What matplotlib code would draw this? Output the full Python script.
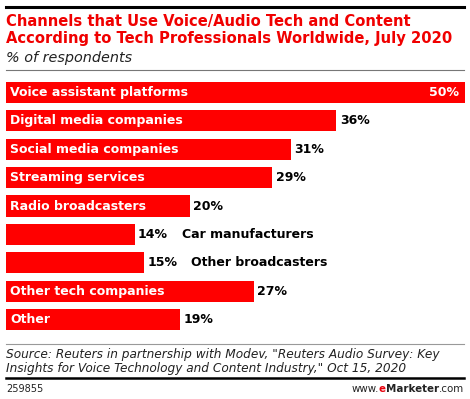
import matplotlib
matplotlib.use("Agg")
import matplotlib.pyplot as plt
from matplotlib.lines import Line2D

categories = ["Voice assistant platforms", "Digital media companies", "Social media companies",
              "Streaming services", "Radio broadcasters", "Car manufacturers",
              "Other broadcasters", "Other tech companies", "Other"]
values = [50, 36, 31, 29, 20, 14, 15, 27, 19]
# categories whose name does not fit inside the bar
outside = ["Car manufacturers", "Other broadcasters"]

W, H = 470, 399
fig = plt.figure(figsize=(W / 100, H / 100), dpi=100)
fig.patch.set_facecolor("white")

def fx(px):
    return px / W

def fy(py):
    return 1 - py / H

red = "#ff0000"
font = "DejaVu Sans"

# header
fig.add_artist(Line2D([fx(6), fx(464)], [fy(7), fy(7)], color="black", lw=2.2))
fig.text(fx(6), fy(26), "Channels that Use Voice/Audio Tech and Content",
         color="#f00000", fontsize=10.6, fontweight="bold", family=font, va="baseline")
fig.text(fx(6), fy(43), "According to Tech Professionals Worldwide, July 2020",
         color="#f00000", fontsize=10.6, fontweight="bold", family=font, va="baseline")
fig.text(fx(6), fy(62), "% of respondents", fontsize=10.4, style="italic", family=font,
         color="#222222", va="baseline")
fig.add_artist(Line2D([fx(6), fx(464)], [fy(70), fy(70)], color="#777777", lw=0.8))

# bars
ax = fig.add_axes([fx(6), fy(334), fx(459), 256 / H])
y = list(range(len(categories)))
ax.barh(y, values, height=0.74, color=red, edgecolor="none")
ax.set_xlim(0, 50)
ax.set_ylim(len(categories) - 0.5, -0.5)
ax.axis("off")

for i, (c, v) in enumerate(zip(categories, values)):
    if v == max(values):
        ax.annotate(f"{v}%", (v, i), xytext=(-4, 0), textcoords="offset points",
                    ha="right", va="center", color="white", fontsize=9, fontweight="bold", family=font)
    else:
        ax.annotate(f"{v}%", (v, i), xytext=(2.5, 0), textcoords="offset points",
                    ha="left", va="center", color="black", fontsize=9, fontweight="bold", family=font)
    if c in outside:
        ax.annotate(c, (v, i), xytext=(34, 0), textcoords="offset points",
                    ha="left", va="center", color="black", fontsize=9, fontweight="bold", family=font)
    else:
        ax.annotate(c, (0, i), xytext=(3, 0), textcoords="offset points",
                    ha="left", va="center", color="white", fontsize=9, fontweight="bold", family=font)

# footer
fig.add_artist(Line2D([fx(6), fx(464)], [fy(344), fy(344)], color="#999999", lw=0.8))
fig.text(fx(6), fy(358), "Source: Reuters in partnership with Modev, \"Reuters Audio Survey: Key",
         fontsize=8.7, style="italic", family=font, color="#222222", va="baseline")
fig.text(fx(6), fy(372), "Insights for Voice Technology and Content Industry,\" Oct 15, 2020",
         fontsize=8.7, style="italic", family=font, color="#222222", va="baseline")
fig.add_artist(Line2D([fx(6), fx(464)], [fy(378), fy(378)], color="black", lw=1.8))
fig.text(fx(6), fy(392), "259855", fontsize=7, family=font, color="#222222", va="baseline")

# www.eMarketer.com, right aligned, built piece by piece
fig.canvas.draw()
r = fig.canvas.get_renderer()
parts = [(".com", "normal", "#222222"), ("Marketer", "bold", "#222222"), ("e", "bold", "#e8000b"), ("www.", "normal", "#222222")]
xr = 464
for s, wgt, col in parts:
    t = fig.text(fx(xr), fy(392), s, fontsize=7.4, fontweight=wgt, family=font, color=col,
                 ha="right", va="baseline")
    xr -= t.get_window_extent(r).width

fig.savefig("out.png", dpi=100)
